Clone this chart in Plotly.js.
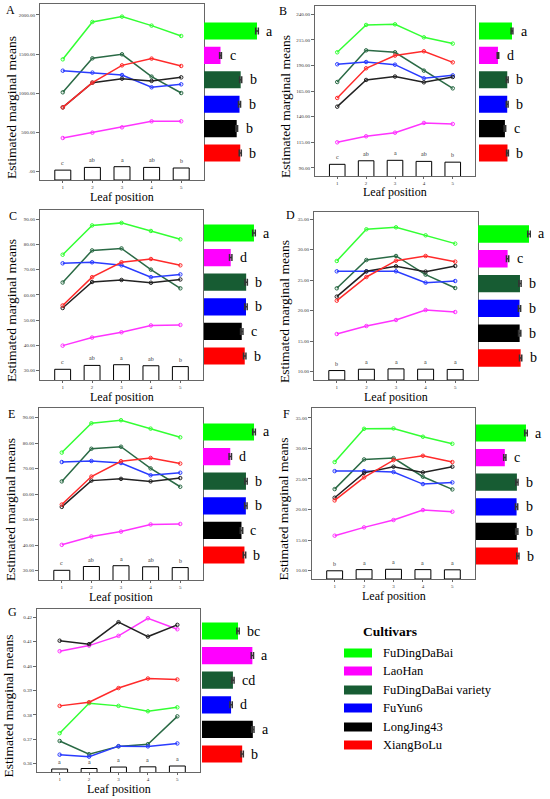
<!DOCTYPE html>
<html><head><meta charset="utf-8">
<script src="https://cdn.plot.ly/plotly-3.0.1.min.js"></script>
<style>html,body{margin:0;padding:0;background:#fff}#chart{width:550px;height:799px}</style>
</head><body><div id="chart"></div>
<script>
const cultivars = ['FuDingDaBai','LaoHan','FuDingDaBai variety','FuYun6','LongJing43','XiangBoLu'];
const barColors = ['#00ff00','#ff00ff','#175c33','#0000ff','#000000','#ff0000'];
const lineColors = ['#33ff33','#ff33ff','#2a6a45','#2a3cff','#222222','#ff2a2a'];
const leafPositions = [1,2,3,4,5];

// ---- Panel A ----
const A_values = [
 [1434,1911,1979,1864,1732],
 [430,498,566,643,643],
 [1013,1447,1498,1213,1004],
 [1289,1264,1234,1077,1115],
 [821,1136,1187,1158,1204],
 [821,1136,1357,1443,1349]];
const A_cultMeans = [1784,556,1235,1196,1101,1221];
const A_cultSE = [45,30,35,35,30,35];
const A_cultLetters = ['a','c','b','b','b','b'];
const A_posMeans = [968,1232,1303,1233,1175];
const A_posLetters = ['c','ab','a','ab','b'];
const A_ticks = [0,500,1000,1500,2000];
const A_tickText = ['.00','500.00','1000.00','1500.00','2000.00'];

// ---- Panel B ----
const B_values = [
 [202.9,229.6,230.2,217.5,211.4],
 [115.0,120.9,124.4,133.9,132.9],
 [173.9,204.8,202.9,185.0,167.7],
 [191.2,193.4,190.8,177.5,180.4],
 [149.8,175.9,179.2,173.6,178.8],
 [158.3,187.3,199.7,203.9,193.1]];
const B_cultMeans = [218.3,125.4,186.9,186.7,171.5,188.5];
const B_cultSE = [6,5,6,6,5,6];
const B_cultLetters = ['a','d','b','b','c','b'];
const B_posMeans = [165.2,185.3,187.9,181.9,177.4];
const B_posLetters = ['c','ab','a','ab','b'];
const B_ticks = [90,115,140,165,190,215,240];
const B_tickText = ['90.00','115.00','140.00','165.00','190.00','215.00','240.00'];

// ---- Panel C ----
const C_values = [
 [75.9,87.5,88.5,85.3,82.0],
 [39.9,43.1,45.2,47.9,48.1],
 [64.9,77.6,78.4,70.0,62.6],
 [72.5,72.9,71.7,67.0,68.1],
 [54.8,65.1,65.9,64.8,66.1],
 [55.8,67.0,72.9,74.2,71.7]];
const C_cultMeans = [83.8,44.8,70.7,70.4,63.3,68.3];
const C_cultSE = [2.2,2,2,2,2,2];
const C_cultLetters = ['a','d','b','b','c','b'];
const C_posMeans = [60.6,68.9,70.4,68.2,66.4];
const C_posLetters = ['c','ab','a','ab','b'];
const C_ticks = [30,40,50,60,70,80,90];
const C_tickText = ['30.00','40.00','50.00','60.00','70.00','80.00','90.00'];

// ---- Panel D ----
const D_values = [
 [28.15,33.36,33.68,32.37,31.0],
 [16.15,17.46,18.45,20.09,19.76],
 [23.66,28.31,28.97,25.9,23.71],
 [26.45,26.45,26.45,24.59,24.86],
 [22.29,26.45,27.27,26.4,27.33],
 [21.63,25.52,28.2,28.97,28.04]];
const D_cultMeans = [31.7,18.4,26.1,25.8,25.9,26.5];
const D_cultSE = [0.8,0.7,0.7,0.7,0.7,0.7];
const D_cultLetters = ['a','c','b','b','b','b'];
const D_posMeans = [23.06,26.26,27.17,26.39,25.78];
const D_posLetters = ['b','a','a','a','a'];
const D_ticks = [10,15,20,25,30,35];
const D_tickText = ['10.00','15.00','20.00','25.00','30.00','35.00'];

// ---- Panel E ----
const E_values = [
 [76.3,87.8,89.0,85.7,82.3],
 [40.1,43.4,45.3,48.1,48.3],
 [65.0,77.8,78.6,70.1,62.9],
 [72.6,73.0,72.2,67.4,68.4],
 [55.0,65.3,66.0,65.0,66.3],
 [55.9,66.9,72.9,74.2,72.0]];
const E_cultMeans = [84.2,45.0,70.9,70.7,63.5,68.4];
const E_cultSE = [2.2,2,2,2,2,2];
const E_cultLetters = ['a','d','b','b','c','b'];
const E_posMeans = [60.8,69.0,70.7,68.4,66.7];
const E_posLetters = ['c','ab','a','ab','b'];
const E_ticks = [30,40,50,60,70,80,90];
const E_tickText = ['30.00','40.00','50.00','60.00','70.00','80.00','90.00'];

// ---- Panel F ----
const F_values = [
 [27.76,33.2,33.26,31.9,30.75],
 [15.72,17.08,18.28,19.91,19.64],
 [23.34,28.19,28.41,25.36,23.29],
 [26.28,26.28,26.12,24.16,24.43],
 [21.93,26.0,27.0,26.07,27.0],
 [21.49,25.25,28.08,28.79,27.76]];
const F_cultMeans = [31.4,18.1,25.7,25.5,25.6,26.3];
const F_cultSE = [0.8,0.7,0.7,0.7,0.7,0.7];
const F_cultLetters = ['a','c','b','b','b','b'];
const F_posMeans = [22.75,26.0,26.86,26.03,25.48];
const F_posLetters = ['b','a','a','a','a'];
const F_ticks = [10,15,20,25,30,35];
const F_tickText = ['10.00','15.00','20.00','25.00','30.00','35.00'];

// ---- Panel G ----
const G_values = [
 [0.3725,0.3848,0.3837,0.3815,0.3831],
 [0.4061,0.4084,0.4124,0.4196,0.4151],
 [0.3693,0.3639,0.3671,0.3680,0.3794],
 [0.3637,0.3629,0.3672,0.3671,0.3683],
 [0.4104,0.4090,0.4180,0.4121,0.4169],
 [0.3837,0.3852,0.3910,0.3949,0.3945]];
const G_cultMeans = [0.381,0.412,0.370,0.366,0.413,0.390];
const G_cultSE = [0.0025,0.0025,0.0025,0.0025,0.0025,0.0025];
const G_cultLetters = ['bc','a','cd','d','a','b'];
const G_posMeans = [0.3843,0.3857,0.3899,0.3905,0.3929];
const G_posLetters = ['a','a','a','a','a'];
const G_ticks = [0.36,0.37,0.38,0.39,0.40,0.41,0.42];
const G_tickText = ['0.36','0.37','0.38','0.39','0.40','0.41','0.42'];

// ---- geometry (pixels) ----
const panels = [
 {id:'A', v:A_values, cm:A_cultMeans, cse:A_cultSE, cl:A_cultLetters, pm:A_posMeans, pl:A_posLetters, tv:A_ticks, tt:A_tickText,
  frame:[40,204,4,180], yRange:[-106,2140], barX0:204, barC:[31,153], barRange:[0,2020], miniRange:[0,17240], lab:[10,10]},
 {id:'B', v:B_values, cm:B_cultMeans, cse:B_cultSE, cl:B_cultLetters, pm:B_posMeans, pl:B_posLetters, tv:B_ticks, tt:B_tickText,
  frame:[315,475,6,176], yRange:[82.1,248.1], barX0:479, barC:[31,153], barRange:[0,397], miniRange:[98.8,1065], lab:[283,11]},
 {id:'C', v:C_values, cm:C_cultMeans, cse:C_cultSE, cl:C_cultLetters, pm:C_posMeans, pl:C_posLetters, tv:C_ticks, tt:C_tickText,
  frame:[40,203,210,380], yRange:[26.3,93.6], barX0:204, barC:[233,356], barRange:[0,100.6], miniRange:[37.8,400.3], lab:[13,216]},
 {id:'D', v:D_values, cm:D_cultMeans, cse:D_cultSE, cl:D_cultLetters, pm:D_posMeans, pl:D_posLetters, tv:D_ticks, tt:D_tickText,
  frame:[314,478,212,380], yRange:[8.59,36.2], barX0:478, barC:[234,358], barRange:[0,37.3], miniRange:[0,410], lab:[290,215]},
 {id:'E', v:E_values, cm:E_cultMeans, cse:E_cultSE, cl:E_cultLetters, pm:E_posMeans, pl:E_posLetters, tv:E_ticks, tt:E_tickText,
  frame:[39,203,408,580], yRange:[26.3,93.8], barX0:203, barC:[432,555], barRange:[0,99], miniRange:[39.9,410.6], lab:[11,414]},
 {id:'F', v:F_values, cm:F_cultMeans, cse:F_cultSE, cl:F_cultLetters, pm:F_posMeans, pl:F_posLetters, tv:F_ticks, tt:F_tickText,
  frame:[312,475,408,579], yRange:[8.64,36.6], barX0:476, barC:[433,556], barRange:[0,37.7], miniRange:[0,474], lab:[286,414]},
 {id:'G', v:G_values, cm:G_cultMeans, cse:G_cultSE, cl:G_cultLetters, pm:G_posMeans, pl:G_posLetters, tv:G_ticks, tt:G_tickText,
  frame:[37,200,609,772], yRange:[0.3566,0.4234], barX0:202, barC:[631,754], barRange:[0.3032,0.4328], miniRange:[0.3757,0.843], lab:[12,612]}
];

const W = 550, H = 799;
const FONT = 'Liberation Serif, Times New Roman, serif';
const fx = p => p / W;
const fy = p => 1 - p / H;
const xid = n => n === 1 ? 'x' : 'x' + n;
const yid = n => n === 1 ? 'y' : 'y' + n;
const xk = n => n === 1 ? 'xaxis' : 'xaxis' + n;
const yk = n => n === 1 ? 'yaxis' : 'yaxis' + n;

const traces = [];
const layout = {
  width: W, height: H, margin: {l:0, r:0, t:0, b:0},
  paper_bgcolor: '#fff', plot_bgcolor: '#fff', showlegend: false,
  font: {family: FONT, color: '#000'},
  annotations: [], shapes: []
};

panels.forEach((p, i) => {
  const xm = 2*i+1, xb = 2*i+2, ym = 3*i+1, yo = 3*i+2, yb = 3*i+3;
  const [x0, x1, t0, b0] = p.frame;
  layout[xk(xm)] = {
    domain: [fx(x0), fx(x1)], anchor: yid(ym), range: [0.23, 5.77],
    showline: true, mirror: true, linecolor: '#666', linewidth: 1,
    ticks: 'outside', ticklen: 2, tickcolor: '#666', tickwidth: 1,
    tickvals: leafPositions, ticktext: leafPositions.map(String),
    tickfont: {size: 5, family: FONT, color: '#333'},
    showgrid: false, zeroline: false, fixedrange: true
  };
  layout[yk(ym)] = {
    domain: [fy(b0), fy(t0)], anchor: xid(xm), range: p.yRange,
    showline: true, mirror: true, linecolor: '#666', linewidth: 1,
    ticks: 'outside', ticklen: 3, tickcolor: '#666', tickwidth: 1,
    tickvals: p.tv, ticktext: p.tt,
    tickfont: {size: 5, family: FONT, color: '#333'},
    showgrid: false, zeroline: false, fixedrange: true
  };
  layout[yk(yo)] = {overlaying: yid(ym), anchor: xid(xm), range: p.miniRange, visible: false, fixedrange: true};
  layout[xk(xb)] = {domain: [fx(p.barX0), fx(p.barX0 + 60)], anchor: yid(yb), range: p.barRange, visible: false, fixedrange: true};
  const sp = (p.barC[1] - p.barC[0]) / 5;
  layout[yk(yb)] = {domain: [fy(p.barC[1] + sp/2), fy(p.barC[0] - sp/2)], anchor: xid(xb),
    type: 'category', categoryorder: 'array', categoryarray: cultivars, range: [5.5, -0.5], visible: false, fixedrange: true};

  // mini position bars
  traces.push({
    type: 'bar', x: leafPositions, y: p.pm, xaxis: xid(xm), yaxis: yid(yo),
    width: 0.54, marker: {color: '#fff', line: {color: '#000', width: 1}},
    hoverinfo: 'skip'
  });
  // cultivar lines
  p.v.forEach((row, k) => {
    traces.push({
      type: 'scatter', mode: 'lines+markers', x: leafPositions, y: row,
      xaxis: xid(xm), yaxis: yid(ym),
      line: {color: lineColors[k], width: 1.5},
      marker: {symbol: 'circle-open', size: 3.5, color: lineColors[k], line: {width: 1, color: lineColors[k]}},
      hoverinfo: 'skip'
    });
  });
  // cultivar mean bars
  traces.push({
    type: 'bar', orientation: 'h', x: p.cm, y: cultivars, xaxis: xid(xb), yaxis: yid(yb),
    width: 0.7, marker: {color: barColors, line: {width: 0}},
    error_x: {type: 'data', array: p.cse, visible: true, color: '#333', thickness: 1.5, width: 3.5},
    hoverinfo: 'skip'
  });

  // letters above mini bars
  p.pm.forEach((m, j) => {
    layout.annotations.push({xref: xid(xm), yref: yid(yo), x: leafPositions[j], y: m,
      text: p.pl[j], showarrow: false, yanchor: 'bottom', yshift: 2,
      font: {size: 6, family: FONT, color: '#333'}});
  });
  // letters beside cultivar bars
  p.cm.forEach((m, k) => {
    layout.annotations.push({xref: xid(xb), yref: yid(yb), x: m, y: cultivars[k],
      text: p.cl[k], showarrow: false, xanchor: 'left', xshift: 7,
      font: {size: 14, family: FONT, color: '#000'}});
  });
  // panel letter
  layout.annotations.push({xref: 'paper', yref: 'paper', x: fx(p.lab[0]), y: fy(p.lab[1]),
    text: p.id, showarrow: false, xanchor: 'center', yanchor: 'middle',
    font: {size: 12, family: FONT, color: '#000'}});
  // y title
  layout.annotations.push({xref: 'paper', yref: 'paper', x: fx(x0 - 29), y: fy((t0 + b0)/2 + 16),
    text: 'Estimated marginal means', textangle: -90, showarrow: false, xanchor: 'center', yanchor: 'middle',
    font: {size: 13.5, family: FONT, color: '#000'}});
  // x title
  layout.annotations.push({xref: 'paper', yref: 'paper', x: fx((x0 + x1)/2), y: fy(b0 + 16.5),
    text: 'Leaf position', showarrow: false, xanchor: 'center', yanchor: 'middle',
    font: {size: 12, family: FONT, color: '#000'}});
});

// legend
layout.annotations.push({xref: 'paper', yref: 'paper', x: fx(390), y: fy(631), text: '<b>Cultivars</b>',
  showarrow: false, xanchor: 'center', yanchor: 'middle', font: {size: 13.5, family: FONT, color: '#000'}});
const legY = [653, 671, 690, 708, 727, 745];
cultivars.forEach((c, k) => {
  layout.shapes.push({type: 'rect', xref: 'paper', yref: 'paper', x0: fx(344), x1: fx(372),
    y0: fy(legY[k] + 4.5), y1: fy(legY[k] - 4.5), fillcolor: barColors[k], line: {width: 0}});
  layout.annotations.push({xref: 'paper', yref: 'paper', x: fx(381), y: fy(legY[k]), text: c,
    showarrow: false, xanchor: 'left', yanchor: 'middle', font: {size: 12.5, family: FONT, color: '#000'}});
});

Plotly.newPlot('chart', traces, layout, {staticPlot: true, displayModeBar: false});
</script>
</body></html>
